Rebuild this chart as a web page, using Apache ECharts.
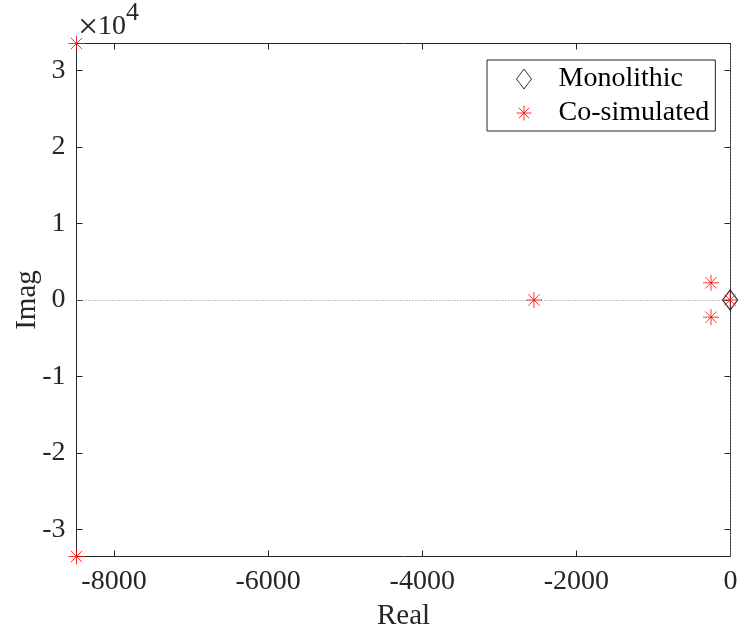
<!DOCTYPE html>
<html>
<head>
<meta charset="utf-8">
<script src="https://cdn.jsdelivr.net/npm/echarts@6/dist/echarts.min.js"></script>
<style>
  html, body { margin: 0; padding: 0; background: #fff; }
  #chart { width: 740px; height: 631px; }
</style>
</head>
<body>
<div id="chart"></div>
<script>
"use strict";

// poles, [real, imag]
var monolithic = [[-5, 0]];
var cosimulated = [
  [-8487, 33560], [-8487, -33560],
  [-2550, 0],
  [-253, 2250], [-253, -2250],
  [-5, 0]
];
var xTicks = [-8000, -6000, -4000, -2000, 0];
var yTicks = [-30000, -20000, -10000, 0, 10000, 20000, 30000];
var xRange = [-8487, 0];
var yRange = [-33560, 33560];

var font = "'Liberation Serif', 'Times New Roman', serif";
var axisColor = "#262626";
var starPath = "path://M0,-10L0,10M-10,0L10,0M-7.07,-7.07L7.07,7.07M-7.07,7.07L7.07,-7.07";

var chart = echarts.init(document.getElementById("chart"));

function boxAxis(pos, range, ticks, showLabel, fmt) {
  return {
    type: "value",
    position: pos,
    min: range[0],
    max: range[1],
    axisLine: { show: true, onZero: false, lineStyle: { color: axisColor, width: 1 } },
    axisTick: { show: true, inside: true, length: 6, customValues: ticks, lineStyle: { color: axisColor } },
    axisLabel: {
      show: showLabel,
      customValues: ticks,
      formatter: fmt,
      color: axisColor,
      fontFamily: font,
      fontSize: 28,
      margin: 11
    },
    splitLine: { show: false }
  };
}

var option = {
  animation: false,
  grid: { left: 76.5, right: 9.5, top: 43.5, bottom: 74.5, containLabel: false, outerBoundsMode: "none" },
  xAxis: [
    Object.assign(boxAxis("bottom", xRange, xTicks, true, function (v) { return String(v); }), {
      name: "Real",
      nameLocation: "middle",
      nameGap: 45,
      nameTextStyle: { fontFamily: font, fontSize: 29, color: axisColor }
    }),
    boxAxis("top", xRange, xTicks, false)
  ],
  yAxis: [
    Object.assign(boxAxis("left", yRange, yTicks, true, function (v) { return String(v / 10000); }), {
      name: "Imag",
      nameLocation: "middle",
      nameGap: 35,
      nameMoveOverlap: false,
      nameTextStyle: { fontFamily: font, fontSize: 29, color: axisColor }
    }),
    boxAxis("right", yRange, yTicks, false)
  ],
  legend: {
    orient: "vertical",
    left: 487,
    top: 60,
    width: 228,
    padding: [5, 6, 4, 27],
    itemGap: 6,
    itemWidth: 15,
    itemHeight: 20,
    borderColor: axisColor,
    borderWidth: 1,
    backgroundColor: "#fff",
    itemStyle: { borderWidth: 1 },
    textStyle: { fontFamily: font, fontSize: 28, color: "#000", padding: [0, 0, 0, 22] },
    data: ["Monolithic", "Co-simulated"]
  },
  graphic: [
    { type: "text", left: 78, top: 11, style: { text: "×", fontFamily: font, fontSize: 36, fill: axisColor } },
    { type: "text", left: 98, top: 13, style: { text: "10", fontFamily: font, fontSize: 28, fill: axisColor } },
    { type: "text", left: 126, top: 0, style: { text: "4", fontFamily: font, fontSize: 26, fill: axisColor } }
  ],
  series: [
    {
      name: "Monolithic",
      type: "scatter",
      clip: false,
      symbol: "diamond",
      symbolSize: [15, 20],
      itemStyle: { color: "rgba(0,0,0,0)", borderColor: "#000", borderWidth: 1.2 },
      data: monolithic,
      z: 3
    },
    {
      name: "Co-simulated",
      type: "scatter",
      clip: false,
      symbol: starPath,
      symbolSize: 16,
      itemStyle: { color: "none", borderColor: "#ff0000", borderWidth: 1 },
      data: cosimulated,
      z: 4,
      markLine: {
        silent: true,
        symbol: "none",
        label: { show: false },
        lineStyle: { color: "#8c8c8c", type: [1, 2], width: 1 },
        data: [{ xAxis: 0 }, { yAxis: 0 }],
        z: 1
      }
    }
  ]
};

chart.setOption(option);
</script>
</body>
</html>
